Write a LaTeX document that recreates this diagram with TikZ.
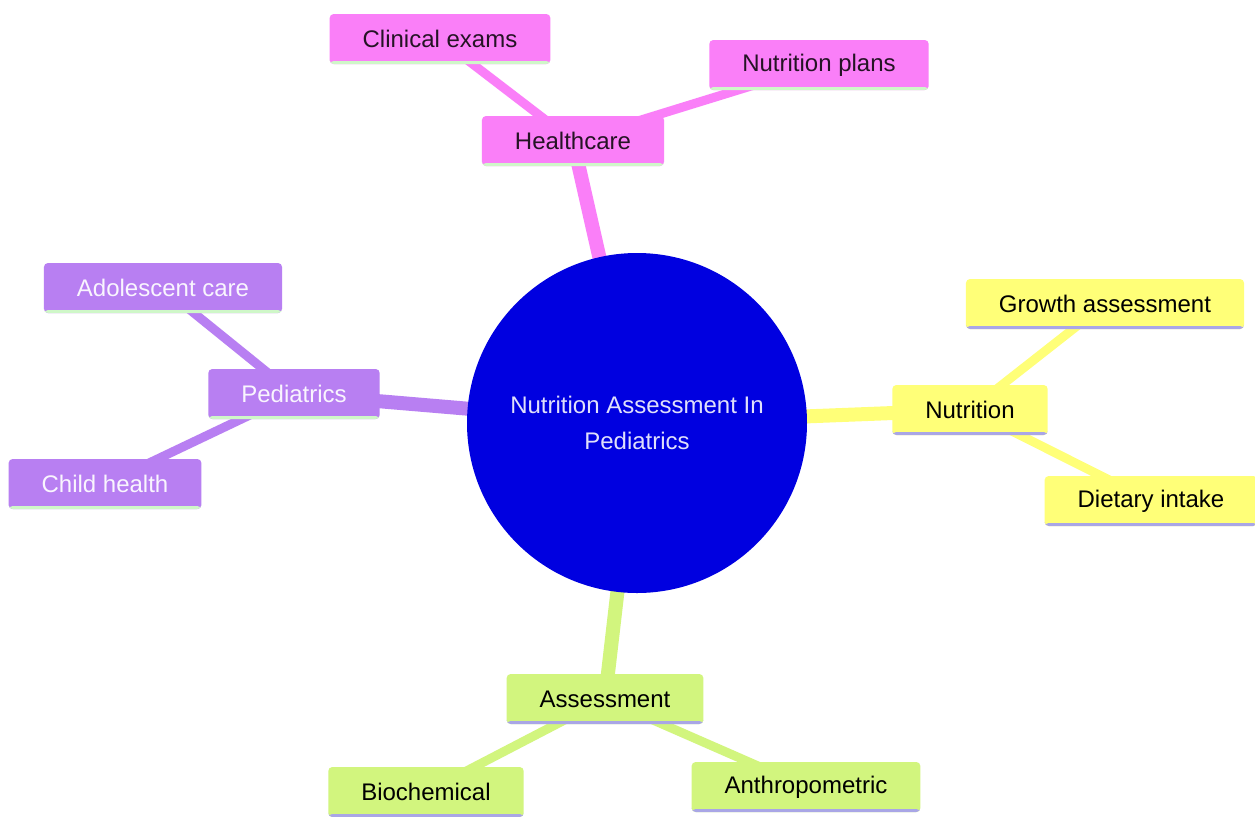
\documentclass[tikz,border=0pt]{standalone}
\usepackage{fontspec}
\setmainfont{Liberation Sans}
\usetikzlibrary{backgrounds}
\definecolor{rootblue}{HTML}{0000E0}
\definecolor{hcpink}{HTML}{FA7FF8}
\definecolor{pedpurple}{HTML}{B87FF2}
\definecolor{nutyellow}{HTML}{FFFF78}
\definecolor{assgreen}{HTML}{D2F57E}
\definecolor{mintline}{HTML}{CFF7C8}
\definecolor{lavline}{HTML}{A9A6E6}
\begin{document}
\begin{tikzpicture}[x=0.5pt,y=-0.5pt]
    \tikzstyle{leaf} = [rounded corners=2pt, inner xsep=16.5pt, minimum height=25pt,
        font=\fontsize{12}{14}\selectfont]
    \tikzstyle{mintbase} = [path picture={\fill[mintline] (path picture bounding box.south west) rectangle ([yshift=1.5pt]path picture bounding box.south east);}]
    \tikzstyle{lavbase} = [path picture={\fill[lavline] (path picture bounding box.south west) rectangle ([yshift=1.5pt]path picture bounding box.south east);}]
    \tikzstyle{hcnode} = [leaf, mintbase, fill=hcpink, text=black!85!hcpink]
    \tikzstyle{pednode} = [leaf, mintbase, fill=pedpurple, text=white!92!pedpurple]
    \tikzstyle{nutnode} = [leaf, lavbase, fill=nutyellow, text=black]
    \tikzstyle{assnode} = [leaf, lavbase, fill=assgreen, text=black]
    \tikzstyle{trunk} = [line width=7pt]
    \tikzstyle{twig} = [line width=4.5pt]
    \useasboundingbox (0,0) rectangle (1255,816);
    % root
    \node[circle, fill=rootblue, minimum size=170pt, align=center, text=white!88!rootblue,
        font=\fontsize{12}{18}\selectfont] (root) at (637,423) {Nutrition Assessment In\\Pediatrics};
    % healthcare
    \node[hcnode] (hc) at (573,141) {Healthcare};
    \node[hcnode] (exams) at (440,39) {Clinical exams};
    \node[hcnode] (plans) at (819,65) {Nutrition plans};
    % pediatrics
    \node[pednode] (ped) at (294,394) {Pediatrics};
    \node[pednode] (adol) at (163,288) {Adolescent care};
    \node[pednode] (child) at (105,484) {Child health};
    % nutrition
    \node[nutnode] (nut) at (970,410) {Nutrition};
    \node[nutnode] (growth) at (1105,304) {Growth assessment};
    \node[nutnode] (diet) at (1151,501) {Dietary intake};
    % assessment
    \node[assnode] (ass) at (605,699) {Assessment};
    \node[assnode] (bio) at (426,792) {Biochemical};
    \node[assnode] (anthro) at (806,787) {Anthropometric};
    \begin{pgfonlayer}{background}
        \fill[white] (0,0) rectangle (1255,816);
        \draw[trunk, hcpink] (root.center) -- (hc.center);
        \draw[twig, hcpink] (hc.center) -- (exams.center);
        \draw[twig, hcpink] (hc.center) -- (plans.center);
        \draw[trunk, pedpurple] (root.center) -- (ped.center);
        \draw[twig, pedpurple] (ped.center) -- (adol.center);
        \draw[twig, pedpurple] (ped.center) -- (child.center);
        \draw[trunk, nutyellow] (root.center) -- (nut.center);
        \draw[twig, nutyellow] (nut.center) -- (growth.center);
        \draw[twig, nutyellow] (nut.center) -- (diet.center);
        \draw[trunk, assgreen] (root.center) -- (ass.center);
        \draw[twig, assgreen] (ass.center) -- (bio.center);
        \draw[twig, assgreen] (ass.center) -- (anthro.center);
    \end{pgfonlayer}
\end{tikzpicture}
\end{document}
